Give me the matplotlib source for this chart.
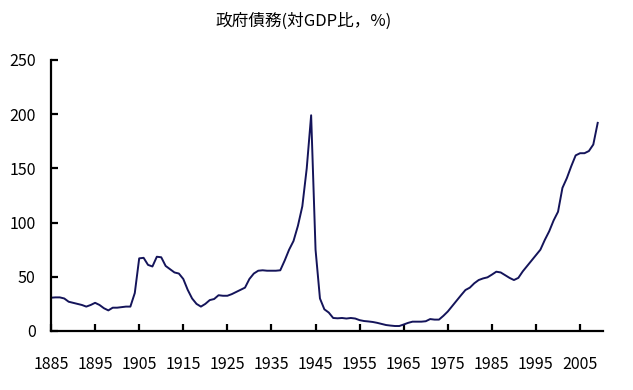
import numpy as np
import matplotlib
matplotlib.use("Agg")
import matplotlib.pyplot as plt

# Government debt (% of GDP), one value per year
years = np.arange(1885, 2010)
debt_1885_1904 = [30.7, 31, 31, 30, 27, 26, 25, 24, 22.5, 24,
                  26, 24, 21, 19, 21.5, 21.5, 22, 22.5, 22.5, 35]
debt_1905_1924 = [67, 67.5, 61, 59.5, 68.5, 68, 60, 57, 54, 53,
                  48, 38, 30, 25, 22.5, 25, 28.5, 29.5, 33, 32.5]
debt_1925_1944 = [32.5, 34, 36, 38, 40, 48, 53, 55.6, 56, 55.6,
                  55.6, 55.6, 56, 65, 75, 83, 97, 115, 150, 199]
debt_1945_1964 = [75, 30, 20, 17, 12, 11.7, 12, 11.5, 12, 11.5,
                  10, 9.2, 8.8, 8.3, 7.5, 6.5, 5.5, 5, 4.6, 4.6]
debt_1965_1984 = [6, 7.5, 8.6, 8.6, 8.6, 9, 11, 10.5, 10.5, 14,
                  18, 23, 28, 33, 37.8, 40, 44, 47, 48.5, 49.5]
debt_1985_2009 = [52, 54.7, 54, 51.5, 49, 47, 49, 55, 60, 65,
                  70, 75, 84, 92, 102, 110, 132, 141, 152, 162,
                  164, 164, 166, 172, 192]
debt = (debt_1885_1904 + debt_1905_1924 + debt_1925_1944
        + debt_1945_1964 + debt_1965_1984 + debt_1985_2009)

xticks = list(range(1885, 2006, 10))
yticks = [0, 50, 100, 150, 200, 250]
title = '政府債務(対GDP比，%)'

plt.rcParams['font.family'] = ['Noto Sans CJK JP', 'DejaVu Sans']

fig = plt.figure(figsize=(6.33, 3.90), dpi=100)
ax = fig.add_axes([0.0806, 0.1513, 0.872, 0.6949])

ax.plot(years, debt, color='#14145a', linewidth=1.4)

ax.set_xlim(1885, 2010.2)
ax.set_ylim(0, 250)
ax.set_xticks(xticks)
ax.set_yticks(yticks)
ax.tick_params(direction='in', length=5, width=1.6, labelsize=11.5, color='black')
ax.tick_params(axis='x', pad=18)
ax.tick_params(axis='y', pad=11)

for side in ['top', 'right']:
    ax.spines[side].set_visible(False)
for side in ['left', 'bottom']:
    ax.spines[side].set_linewidth(1.6)

fig.text(0.48, 0.946, title, ha='center', va='center', fontsize=12)

fig.savefig('out.png', dpi=100, facecolor='white')
